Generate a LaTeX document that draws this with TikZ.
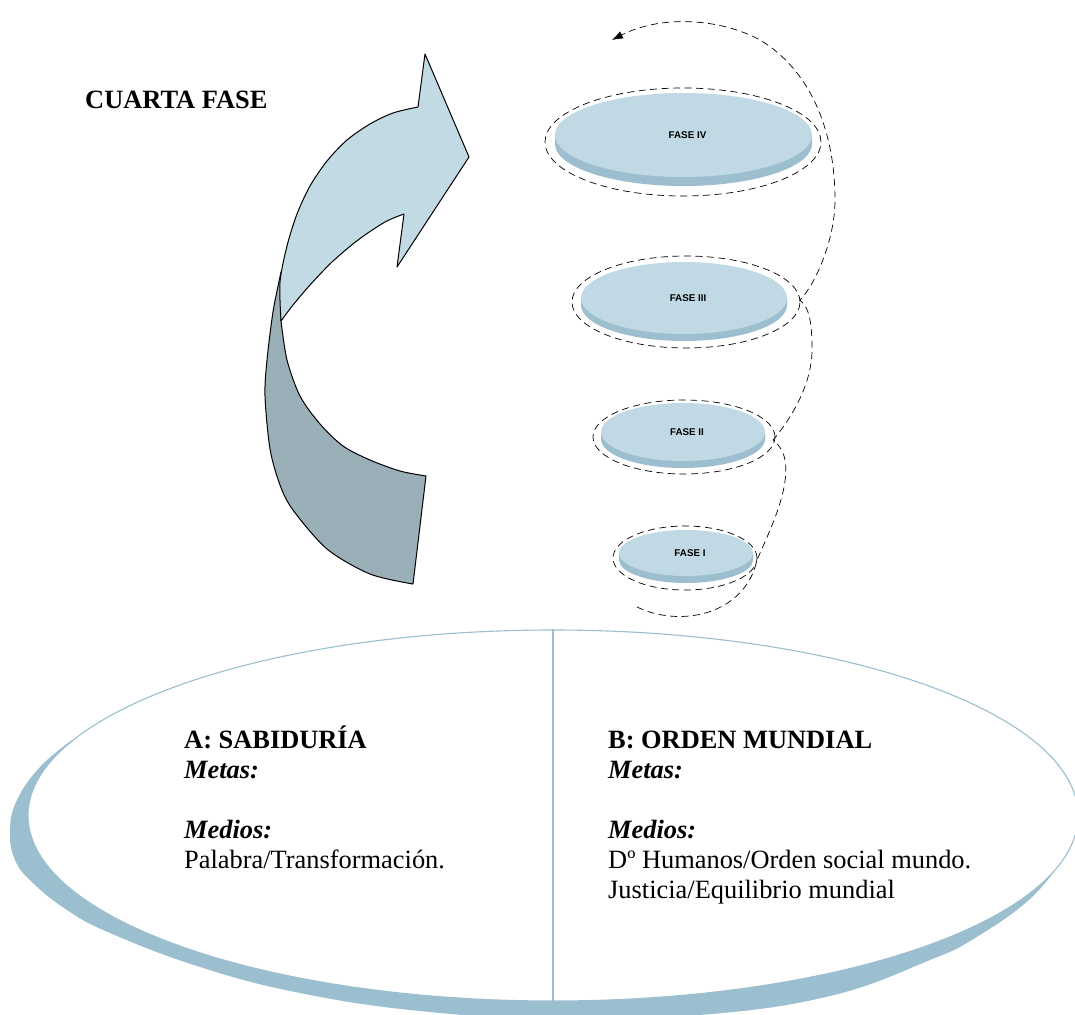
\documentclass[tikz,border=0pt]{standalone}
\usepackage{fontspec}
\setmainfont{Liberation Serif}
\newfontfamily\labelsans{Liberation Sans}
\usetikzlibrary{shapes.geometric,arrows.meta}

\definecolor{disktop}{RGB}{192,217,228}
\definecolor{diskside}{RGB}{157,190,206}
\definecolor{rim}{RGB}{156,191,207}
\definecolor{arrowlight}{RGB}{194,218,228}
\definecolor{arrowdark}{RGB}{155,175,185}

% one phase disk: name, cx, cy, rx, ry, thickness, label
\newcommand\phasedisk[7]{%
  \fill[diskside] (#2-#4,#3) -- (#2-#4,#3+#6)
    arc[start angle=180,end angle=0,x radius=#4,y radius=#5] -- (#2+#4,#3) -- cycle;
  \node[disk, minimum width=2*#4, minimum height=2*#5] (#1) at (#2,#3) {};
  \node[disklabel, xshift=4pt] (#1lbl) at (#1) {#7};
}

\begin{document}
\begin{tikzpicture}[x=1pt,y=-1pt,
  disk/.style={ellipse, fill=disktop, inner sep=0pt},
  disklabel/.style={font=\labelsans\bfseries\fontsize{9.8}{11}\selectfont, inner sep=0pt},
  ringdash/.style={ellipse, draw=black, dash pattern=on 7pt off 4.5pt, line width=0.7pt, inner sep=0pt},
  spiral/.style={draw=black, dash pattern=on 7pt off 4.5pt, line width=0.7pt},
  shapeline/.style={draw=black, line width=1pt, line join=round},
  heading/.style={font=\bfseries\fontsize{26.4}{30}\selectfont, anchor=base west, inner sep=0pt},
  subhead/.style={font=\bfseries\itshape\fontsize{26.4}{30}\selectfont, anchor=base west, inner sep=0pt},
  body/.style={font=\fontsize{26.4}{30}\selectfont, anchor=base west, inner sep=0pt}]

\useasboundingbox (0,0) rectangle (1075,1014);
\fill[white] (0,0) rectangle (1075,1014);

% ---- title ----
\node[heading] (title) at (85,109) {CUARTA FASE};

% ---- curved arrow: dark lower band ----
\filldraw[fill=arrowdark, shapeline]
  plot[smooth] coordinates {(281,272) (273,312) (267,360) (265,396) (270,449) (280,485) (293,510) (327,549) (370,574) (413,584)}
  -- (426,476)
  -- plot[smooth] coordinates {(426,476) (400,471) (370,460) (343,446) (320,424) (300,396) (287,360) (281,321)}
  -- cycle;

% ---- curved arrow: light upper band with head ----
\filldraw[fill=arrowlight, shapeline]
  plot[smooth] coordinates {(281,321) (280,282) (287,246) (297,214) (310,186) (327,161) (347,140) (370,124) (393,113) (418,107)}
  -- (425,54) -- (469,157) -- (397,267) -- (404,214)
  -- plot[smooth] coordinates {(404,214) (385,222) (358,240) (332,262) (310,285) (293,305) (281,321)}
  -- cycle;

% ---- phase disks ----
\phasedisk{f4}{683.5}{135}{128.5}{42}{9}{FASE IV}
\phasedisk{f3}{684}{298}{103}{36}{7}{FASE III}
\phasedisk{f2}{683}{432}{82}{29}{7}{FASE II}
\phasedisk{f1}{686}{553}{67}{23}{7}{FASE I}

% ---- dashed rings around the disks ----
\node[ringdash, minimum width=276, minimum height=108] (r4) at (683,142) {};
\node[ringdash, minimum width=228, minimum height=92] (r3) at (686,302) {};
\node[ringdash, minimum width=182, minimum height=74] (r2) at (684,437) {};
\node[ringdash, minimum width=144, minimum height=64] (r1) at (685,558) {};

% ---- rising spiral ----
\coordinate (sp0) at (637,607);
\coordinate (sp1) at (612,40);
\draw[spiral, -{Latex[length=11pt,width=8pt]}] (sp0)
  .. controls (680,628) and (745,615) .. (757,560)
  .. controls (770,530) and (790,490) .. (785,460)
  .. controls (783,450) and (778,444) .. (773,440)
  .. controls (790,420) and (812,385) .. (812,350)
  .. controls (812,325) and (810,308) .. (800,300)
  .. controls (815,285) and (835,240) .. (835,200)
  .. controls (835,130) and (810,70) .. (760,40)
  .. controls (720,18) and (660,15) .. (sp1);

% ---- lower world ellipse with shadow ----
\fill[rim] plot[smooth, tension=0.7] coordinates {(72,740) (40,767) (17,800) (10,830) (15,860) (33,883) (67,910) (110,933) (200,967) (300,993) (420,1011) (555,1019) (700,1015) (830,996) (930,960) (975,938) (1030,899) (1062,860)} -- cycle;
\node[ellipse, draw=rim, line width=1.1pt, fill=white, inner sep=0pt,
      minimum width=1050, minimum height=371] (world) at (553,815.5) {};
\draw[rim, line width=1.1pt] (world.north) -- (world.south);

% ---- left half: A ----
\node[heading] (aT) at (184,748) {A: SABIDURÍA};
\node[subhead] (aM) at (184,778) {Metas:};
\node[subhead] (aD) at (184,838) {Medios:};
\node[body] (aL) at (184,868) {Palabra/Transformación.};

% ---- right half: B ----
\node[heading] (bT) at (608,748) {B: ORDEN MUNDIAL};
\node[subhead] (bM) at (608,778) {Metas:};
\node[subhead] (bD) at (608,838) {Medios:};
\node[body] (bL1) at (608,868) {Dº Humanos/Orden social mundo.};
\node[body] (bL2) at (608,898) {Justicia/Equilibrio mundial};

\end{tikzpicture}
\end{document}
